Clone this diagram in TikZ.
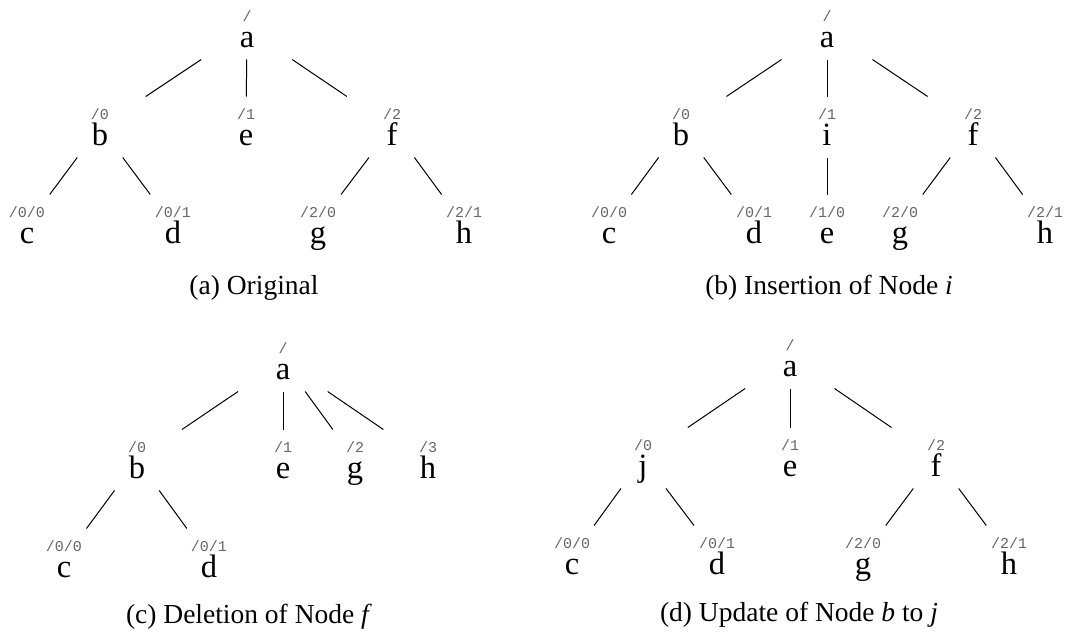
\documentclass[tikz,border=0pt]{standalone}
\usepackage{fontspec}
\setmainfont{Liberation Serif}
\setmonofont{Liberation Mono}
\usepackage{tikz}

\tikzset{
	tn/.style={inner sep=0pt, minimum width=40pt, minimum height=24pt},
	letter/.style={font=\fontsize{13}{13}\selectfont, inner sep=0pt,
		text height=8.5pt, text depth=3pt, yshift=-4.45pt},
	lbl/.style={font=\fontsize{6}{6}\selectfont\ttfamily, text=black!60, inner sep=0pt,
		text height=4pt, text depth=1pt, yshift=4.7pt},
	treeedge/.style={line width=0.4pt},
	subcap/.style={font=\fontsize{11}{13}\selectfont},
}

\begin{document}
\begin{tikzpicture}[x=0.4pt, y=-0.4pt]
		\useasboundingbox (0,0) rectangle (1086,633);
		
		% (a) original tree
		\node[tn, label={[lbl]center:/}, label={[letter]center:a}] (oa) at (247,29) {};
		\node[tn, label={[lbl]center:/0}, label={[letter]center:b}] (ob) at (100,127) {};
		\node[tn, label={[lbl]center:/1}, label={[letter]center:e}] (oe) at (246,127) {};
		\node[tn, label={[lbl]center:/2}, label={[letter]center:f}] (of) at (392,127) {};
		\node[tn, label={[lbl]center:/0/0}, label={[letter]center:c}] (oc) at (27,225) {};
		\node[tn, label={[lbl]center:/0/1}, label={[letter]center:d}] (od) at (173,225) {};
		\node[tn, label={[lbl]center:/2/0}, label={[letter]center:g}] (og) at (318,225) {};
		\node[tn, label={[lbl]center:/2/1}, label={[letter]center:h}] (oh) at (464,225) {};
		\node[subcap] (capa) at (254,288) {(a) Original};
		
		% (b) i inserted between a and e
		\node[tn, label={[lbl]center:/}, label={[letter]center:a}] (ia) at (827,29) {};
		\node[tn, label={[lbl]center:/0}, label={[letter]center:b}] (ib) at (681,127) {};
		\node[tn, label={[lbl]center:/1}, label={[letter]center:i}] (ii) at (827,127) {};
		\node[tn, label={[lbl]center:/2}, label={[letter]center:f}] (if) at (973,127) {};
		\node[tn, label={[lbl]center:/0/0}, label={[letter]center:c}] (ic) at (609,225) {};
		\node[tn, label={[lbl]center:/0/1}, label={[letter]center:d}] (id) at (754,225) {};
		\node[tn, label={[lbl]center:/1/0}, label={[letter]center:e}] (ie) at (827,225) {};
		\node[tn, label={[lbl]center:/2/0}, label={[letter]center:g}] (ig) at (900,225) {};
		\node[tn, label={[lbl]center:/2/1}, label={[letter]center:h}] (ih) at (1045,225) {};
		\node[subcap] (capb) at (829,288) {(b) Insertion of Node \textit{i}};
		
		% (c) f removed, g and h move up
		\node[tn, label={[lbl]center:/}, label={[letter]center:a}] (da) at (283,361) {};
		\node[tn, label={[lbl]center:/0}, label={[letter]center:b}] (db) at (137,460) {};
		\node[tn, label={[lbl]center:/1}, label={[letter]center:e}] (de) at (283,460) {};
		\node[tn, label={[lbl]center:/2}, label={[letter]center:g}] (dg) at (355,460) {};
		\node[tn, label={[lbl]center:/3}, label={[letter]center:h}] (dh) at (428,460) {};
		\node[tn, label={[lbl]center:/0/0}, label={[letter]center:c}] (dc) at (64,559) {};
		\node[tn, label={[lbl]center:/0/1}, label={[letter]center:d}] (dd) at (209,559) {};
		\node[subcap] (capc) at (249,617) {(c) Deletion of Node \textit{f}};
		
		% (d) b renamed to j
		\node[tn, label={[lbl]center:/}, label={[letter]center:a}] (ua) at (790,358) {};
		\node[tn, label={[lbl]center:/0}, label={[letter]center:j}] (uj) at (643,458) {};
		\node[tn, label={[lbl]center:/1}, label={[letter]center:e}] (ue) at (790,458) {};
		\node[tn, label={[lbl]center:/2}, label={[letter]center:f}] (uf) at (936,458) {};
		\node[tn, label={[lbl]center:/0/0}, label={[letter]center:c}] (uc) at (572,556) {};
		\node[tn, label={[lbl]center:/0/1}, label={[letter]center:d}] (ud) at (717,556) {};
		\node[tn, label={[lbl]center:/2/0}, label={[letter]center:g}] (ug) at (863,556) {};
		\node[tn, label={[lbl]center:/2/1}, label={[letter]center:h}] (uh) at (1009,556) {};
		\node[subcap] (capd) at (799,615) {(d) Update of Node \textit{b} to \textit{j}};
		
		% edges
		\foreach \p/\c in {oa/ob, oa/oe, oa/of, ob/oc, ob/od, of/og, of/oh,
			ia/ib, ia/ii, ia/if, ib/ic, ib/id, ii/ie, if/ig, if/ih,
			da/db, da/de, da/dg, da/dh, db/dc, db/dd,
			ua/uj, ua/ue, ua/uf, uj/uc, uj/ud, uf/ug, uf/uh}
		\draw[treeedge] (\p) -- (\c);
\end{tikzpicture}
\end{document}
